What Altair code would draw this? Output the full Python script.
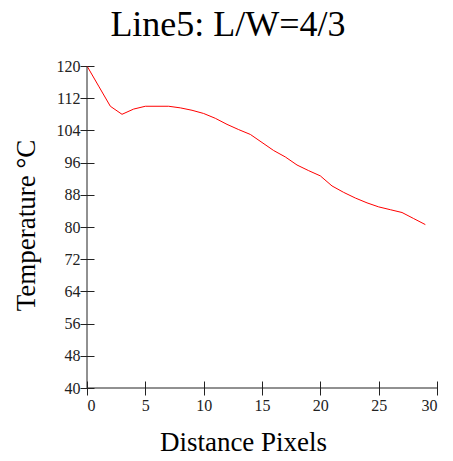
import altair as alt
import pandas as pd

distance = list(range(30))
temperature = [120, 115, 110, 108, 109.3, 110, 110, 110, 109.6, 109, 108.2, 107, 105.5, 104.2,
               103, 101, 99, 97.4, 95.4, 94, 92.7, 90.2, 88.6, 87.2, 86, 85, 84.3, 83.6, 82.1, 80.6]
x_ticks = [0, 5, 10, 15, 20, 25, 30]
y_ticks = [40, 48, 56, 64, 72, 80, 88, 96, 104, 112, 120]

df = pd.DataFrame({"d": distance, "t": temperature})
FONT = "'Liberation Serif', 'Times New Roman', Times, serif"
AX = "#222222"

xs = alt.Scale(domain=[0, 30], nice=False)
ys = alt.Scale(domain=[40, 120], nice=False)

xaxis = alt.Axis(
    values=x_ticks, tickCount=len(x_ticks), title="Distance Pixels", offset=-7, tickSize=14,
    domain=False, grid=False, labelPadding=2, labelFont=FONT, labelFontSize=16,
    labelColor="#222", labelOverlap=False, tickColor=AX, titleFont=FONT, titleFontSize=27,
    titleFontWeight="normal", titleColor="#000", titleX=156, titleY=69,
    titleBaseline="alphabetic", titleAlign="center")
yaxis = alt.Axis(
    values=y_ticks, tickCount=len(y_ticks), title="Temperature °C", offset=-7, tickSize=14,
    domain=False, grid=False, labelPadding=0, labelFont=FONT, labelFontSize=16,
    labelColor="#222", labelOverlap=False, tickColor=AX, titleFont=FONT, titleFontSize=27,
    titleFontWeight="normal", titleColor="#000", titleX=-60, titleY=159,
    titleBaseline="alphabetic", titleAlign="center")

line = alt.Chart(df).mark_line(color="#ff0000", strokeWidth=1).encode(
    x=alt.X("d:Q", scale=xs, axis=xaxis),
    y=alt.Y("t:Q", scale=ys, axis=yaxis),
)

yaxis_line = alt.Chart(pd.DataFrame({"d": [0], "t": [40], "t2": [120]})).mark_rule(
    color=AX, strokeWidth=1).encode(
    x=alt.X("d:Q", scale=xs, axis=xaxis), y=alt.Y("t:Q", scale=ys, axis=yaxis), y2="t2:Q")
xaxis_line = alt.Chart(pd.DataFrame({"t": [40], "d": [0], "d2": [30]})).mark_rule(
    color=AX, strokeWidth=1).encode(
    y=alt.Y("t:Q", scale=ys, axis=yaxis), x=alt.X("d:Q", scale=xs, axis=xaxis), x2="d2:Q")

chart = alt.layer(line, yaxis_line, xaxis_line).properties(
    width=350, height=322,
    title=alt.TitleParams("Line5: L/W=4/3", font=FONT, fontSize=36, fontWeight="normal",
                          color="#000", anchor="middle", dx=-34, offset=14),
    autosize=alt.AutoSizeParams(type="none"),
    padding={"left": 79, "top": 58, "right": 8, "bottom": 65},
).configure_view(stroke=None)

chart.save("out.html", embed_options={"renderer": "svg", "actions": False})
